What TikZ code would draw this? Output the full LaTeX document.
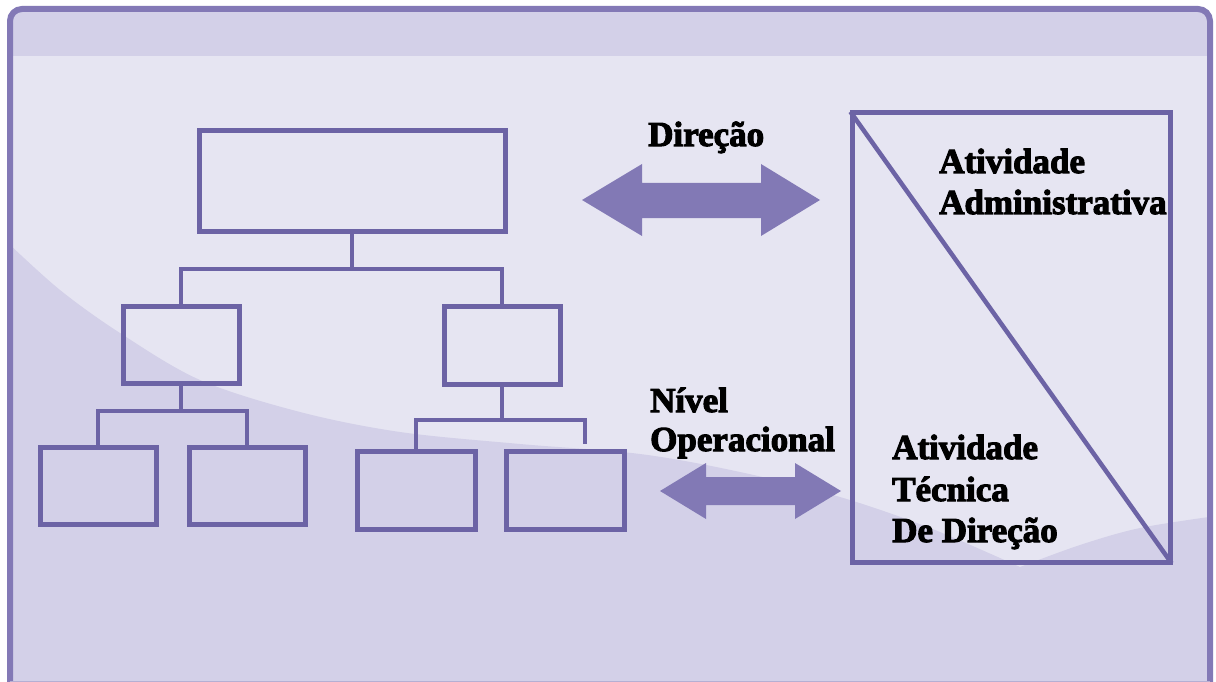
\documentclass[tikz,border=0pt]{standalone}
\usepackage{fontspec}
\newfontfamily\lbl{Liberation Serif}[BoldFeatures={FakeBold=3}]
\definecolor{framec}{HTML}{8379B6}
\definecolor{boxc}{HTML}{6C63A5}
\definecolor{arrowc}{HTML}{8279B5}
\definecolor{lightbg}{HTML}{E6E5F2}
\definecolor{darkbg}{HTML}{D3D0E8}
\tikzset{
  orgbox/.style={draw=boxc, line width=5pt, inner sep=0pt, fill=none},
  conn/.style={draw=boxc, line width=3.5pt},
  fatarrow/.style={fill=arrowc, draw=none},
  txt/.style={anchor=base west, inner sep=0pt, font=\lbl\bfseries\fontsize{35}{40}\selectfont, text=black},
}
\begin{document}
\begin{tikzpicture}[x=1pt, y=-1pt]
\useasboundingbox (0,0) rectangle (1216,682);
\fill[white] (0,0) rectangle (1216,682);
% frame interior
\begin{scope}
  \clip[rounded corners=12pt] (10,9) rectangle (1211,700);
  \fill[lightbg] (0,0) rectangle (1216,682);
  \fill[darkbg] (0,0) rectangle (1216,56);
  \fill[darkbg] plot[smooth, tension=0.55] coordinates {(8,243) (60,290) (120,333) (200,380) (300,412) (400,432) (520,444) (640,454) (740,472) (840,497) (930,528) (1020,567)}
     -- plot[smooth, tension=0.55] coordinates {(1020,567) (1080,545) (1140,528) (1216,516)}
     -- (1216,690) -- (0,690) -- cycle;
\end{scope}
\draw[framec, line width=6pt, rounded corners=12pt] (10,700) -- (10,9) -- (1210,9) -- (1210,700);
\draw[color=framec!60, line width=1pt] (10,681.5) -- (1210,681.5);

% org chart
\node[orgbox, minimum width=306pt, minimum height=100pt] (top) at (352,181) {};
\node[orgbox, minimum width=116pt, minimum height=77pt] (lm) at (181,345) {};
\node[orgbox, minimum width=116pt, minimum height=78pt] (rm) at (502,345) {};
\node[orgbox, minimum width=116pt, minimum height=77pt] (b1) at (98,485.5) {};
\node[orgbox, minimum width=116pt, minimum height=77pt] (b2) at (247,485.5) {};
\node[orgbox, minimum width=118pt, minimum height=78pt] (b3) at (416,490) {};
\node[orgbox, minimum width=118pt, minimum height=78pt] (b4) at (565,490) {};
\coordinate (j1) at (352,269);
\coordinate (j2) at (181,411);
\coordinate (j3) at (502,420);
\coordinate (c4) at (585,444);
\draw[conn] (top.south) -- (j1) -| (lm.north);
\draw[conn] (j1) -| (rm.north);
\draw[conn] (lm.south) -- (j2) -| (b1.north);
\draw[conn] (j2) -| (b2.north);
\draw[conn] (rm.south) -- (j3) -| (b3.north);
\draw[conn] (j3) -| (c4);

% right box
\node[orgbox, minimum width=318pt, minimum height=449pt] (big) at (1011,337.5) {};
\draw[boxc, line width=4.5pt, shorten <=1.5pt, shorten >=1.5pt] (big.north west) -- (big.south east);

% arrows
\fill[fatarrow] (582,200) -- (642,164) -- (642,183) -- (761,183) -- (761,164) -- (820,200) -- (761,236) -- (761,218) -- (642,218) -- (642,236) -- cycle;
\fill[fatarrow] (660,491) -- (706,463) -- (706,477) -- (795,477) -- (795,463) -- (841,491) -- (795,519) -- (795,505) -- (706,505) -- (706,519) -- cycle;

% labels
\node[txt] (dir) at (648,146) {Direção};
\node[txt] (niv1) at (650,412) {Nível};
\node[txt] (niv2) at (650,451) {Operacional};
\node[txt] (aa1) at (939,173) {Atividade};
\node[txt] (aa2) at (939,214) {Administrativa};
\node[txt] (at1) at (892,459) {Atividade};
\node[txt] (at2) at (892,501) {Técnica};
\node[txt] (at3) at (892,542) {De Direção};
\end{tikzpicture}
\end{document}
